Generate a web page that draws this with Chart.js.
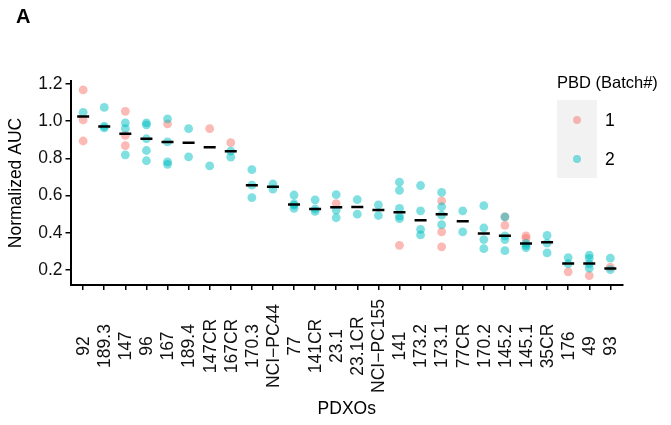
<!DOCTYPE html>
<html>
<head>
<meta charset="utf-8">
<script src="https://cdn.jsdelivr.net/npm/chart.js@4.4.1/dist/chart.umd.min.js"></script>
<style>
  html, body { margin: 0; padding: 0; background: #ffffff; }
  #wrap { width: 671px; height: 425px; }
</style>
</head>
<body>
<div id="wrap"><canvas id="c" width="671" height="425"></canvas></div>
<script>
// PDXO models, ordered by median normalized AUC
const categories = ["92", "189.3", "147", "96", "167", "189.4", "147CR", "167CR", "170.3",
  "NCI\u2212PC44", "77", "141CR", "23.1", "23.1CR", "NCI\u2212PC155", "141", "173.2", "173.1",
  "77CR", "170.2", "145.2", "145.1", "35CR", "176", "49", "93"];

// Normalized AUC replicates, batch 1 (one list per model)
const batch1 = [
  [1.167, 1.006, 0.893], [], [1.052, 0.923, 0.868], [], [0.985], [], [0.959], [0.884],
  [], [], [], [], [0.557], [], [], [0.333], [], [0.571, 0.405, 0.325],
  [], [], [0.486, 0.44], [0.384, 0.37], [], [0.191], [0.17], [0.216]
];

// Normalized AUC replicates, batch 2 (one list per model)
const batch2 = [
  [1.047], [1.073, 0.972, 0.963], [0.99, 0.959, 0.819], [0.99, 0.98, 0.905, 0.842, 0.787],
  [1.012, 0.888, 0.781, 0.768], [0.959, 0.808], [0.759], [0.838, 0.806],
  [0.739, 0.656, 0.589], [0.662, 0.635], [0.603, 0.556, 0.548, 0.531], [0.577, 0.528, 0.515],
  [0.605, 0.522, 0.481], [0.578, 0.50], [0.55, 0.493], [0.672, 0.628, 0.531, 0.49, 0.476],
  [0.654, 0.518, 0.419, 0.389], [0.617, 0.54, 0.495, 0.444], [0.518, 0.405],
  [0.546, 0.426, 0.364, 0.315], [0.486, 0.384, 0.364, 0.304], [0.343, 0.331, 0.32],
  [0.386, 0.345, 0.292], [0.267, 0.234], [0.28, 0.263, 0.233, 0.21], [0.264, 0.202]
];

// Median per model
const medians = [1.025, 0.971, 0.932, 0.905, 0.888, 0.884, 0.859, 0.838, 0.656, 0.648,
  0.552, 0.528, 0.537, 0.539, 0.522, 0.511, 0.467, 0.50, 0.462, 0.396, 0.384, 0.343,
  0.349, 0.235, 0.235, 0.208];

const yTicks = [0.2, 0.4, 0.6, 0.8, 1.0, 1.2];
const batchLabels = ["1", "2"];

const FONT = "'Liberation Sans', Arial, Helvetica, sans-serif";
const PINK = "rgba(248, 118, 109, 0.5)";
const CYAN = "rgba(0, 191, 196, 0.5)";
const DOT_R = 4.4;

const toPoints = (lists) => lists.flatMap((vals, i) => vals.map(v => ({ x: i, y: v })));

// Rotated, centred category labels under the x axis
const xLabelsPlugin = {
  id: 'xLabels',
  afterDraw(chart) {
    const { ctx } = chart;
    const xs = chart.scales.x;
    ctx.save();
    ctx.fillStyle = '#111';
    ctx.font = `17.5px ${FONT}`;
    ctx.textAlign = 'center';
    ctx.textBaseline = 'middle';
    categories.forEach((c, i) => {
      const px = xs.getPixelForValue(i);
      ctx.save();
      ctx.translate(px + 1, 346);
      ctx.rotate(-Math.PI / 2);
      ctx.fillText(c, 0, 0);
      ctx.restore();
    });
    ctx.restore();
  }
};

// Panel tag and batch legend
const decorPlugin = {
  id: 'decor',
  afterDraw(chart) {
    const { ctx, chartArea } = chart;
    ctx.save();
    ctx.fillStyle = '#000';
    ctx.font = `bold 20px ${FONT}`;
    ctx.textAlign = 'left';
    ctx.textBaseline = 'alphabetic';
    ctx.fillText('A', 16, 23);

    const lx = chartArea.right - 66;
    ctx.font = `16.5px ${FONT}`;
    ctx.textBaseline = 'middle';
    ctx.fillStyle = '#000';
    ctx.fillText('PBD (Batch#)', lx, 83);
    ctx.fillStyle = '#f2f2f2';
    ctx.fillRect(lx, 100, 40, 78);
    const colors = [PINK, CYAN];
    const rows = [120, 159];
    rows.forEach((ry, k) => {
      ctx.beginPath();
      ctx.arc(lx + 20, ry, 4, 0, Math.PI * 2);
      ctx.fillStyle = colors[k];
      ctx.fill();
      ctx.fillStyle = '#000';
      ctx.font = `17.5px ${FONT}`;
      ctx.fillText(batchLabels[k], lx + 48, ry + 1);
    });
    ctx.restore();
  }
};

const axisGrid = { display: true, drawOnChartArea: false, drawTicks: true, tickLength: 5, color: '#000', lineWidth: 1.5 };
const axisBorder = { display: true, color: '#000', width: 2 };

new Chart(document.getElementById('c'), {
  type: 'scatter',
  data: {
    datasets: [
      {
        label: 'median',
        data: medians.map((v, i) => ({ x: i, y: v })),
        pointStyle: 'line',
        pointRadius: 6,
        borderColor: '#000',
        backgroundColor: '#000',
        borderWidth: 2.5,
        order: 0
      },
      {
        label: batchLabels[1],
        data: toPoints(batch2),
        backgroundColor: CYAN,
        borderWidth: 0,
        pointRadius: DOT_R,
        order: 1
      },
      {
        label: batchLabels[0],
        data: toPoints(batch1),
        backgroundColor: PINK,
        borderWidth: 0,
        pointRadius: DOT_R,
        order: 2
      }
    ]
  },
  options: {
    responsive: false,
    animation: false,
    devicePixelRatio: 1,
    events: [],
    layout: { padding: { left: 0, top: 81, right: 48, bottom: 0 } },
    plugins: { legend: { display: false }, tooltip: { enabled: false } },
    scales: {
      x: {
        type: 'linear',
        min: -0.6,
        max: 25.6,
        afterBuildTicks: (s) => { s.ticks = categories.map((c, i) => ({ value: i })); },
        afterFit: (s) => { s.height = 140; },
        ticks: { display: false },
        grid: axisGrid,
        border: axisBorder,
        title: {
          display: true, text: 'PDXOs', color: '#000',
          font: { family: FONT, size: 17.5 },
          padding: { top: 0, bottom: 5 }
        }
      },
      y: {
        min: 0.12,
        max: 1.215,
        afterBuildTicks: (s) => { s.ticks = yTicks.map(v => ({ value: v })); },
        afterFit: (s) => { s.width = 70.5; },
        ticks: {
          callback: (v) => Number(v).toFixed(1),
          color: '#111',
          font: { family: FONT, size: 17.5 },
          padding: 3
        },
        grid: axisGrid,
        border: axisBorder,
        title: {
          display: true, text: 'Normalized AUC', color: '#000',
          font: { family: FONT, size: 17.5 },
          padding: { top: 6, bottom: 0 }
        }
      }
    }
  },
  plugins: [xLabelsPlugin, decorPlugin]
});
</script>
</body>
</html>
